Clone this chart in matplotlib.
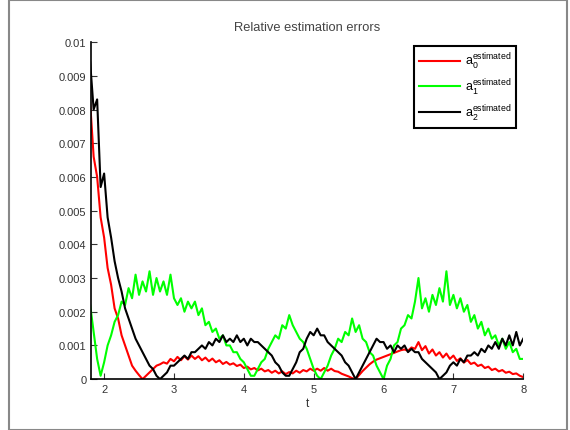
import numpy as np
import matplotlib
matplotlib.use("Agg")
import matplotlib.pyplot as plt
from matplotlib.patches import Rectangle

plt.rcParams['font.family'] = ['Liberation Sans', 'DejaVu Sans']
plt.rcParams['mathtext.fontset'] = 'custom'
plt.rcParams['mathtext.rm'] = 'Liberation Sans'
plt.rcParams['mathtext.it'] = 'Liberation Sans'

# sample times: 1.80, 1.85, ..., 8.00 (125 samples)
t = np.round(1.8 + 0.05 * np.arange(125), 2)

# relative error of a0 (red)
err_a0 = [
    0.0082, 0.0066, 0.0060, 0.0048, 0.0042, 0.0033, 0.0028, 0.0021, 0.0018, 0.0013,
    0.0010, 0.0007, 0.0004, 0.00025, 0.00012, 0.0, 0.0001, 0.0002, 0.0003, 0.0004,
    0.00044, 0.0005, 0.00046, 0.0006, 0.00053, 0.00066, 0.00056, 0.00068, 0.00058, 0.0007,
    0.0006, 0.00068, 0.00056, 0.00064, 0.00053, 0.00061, 0.0005, 0.00056, 0.00045, 0.00051,
    0.00043, 0.00047, 0.00039, 0.00043, 0.00033, 0.00037, 0.00029, 0.00033, 0.00026, 0.00031,
    0.00023, 0.00027, 0.00019, 0.00025, 0.00017, 0.00023, 0.00015, 0.00021, 0.00017, 0.00025,
    0.00019, 0.00027, 0.00023, 0.00031, 0.00025, 0.00031, 0.00025, 0.00033, 0.00025, 0.00031,
    0.00024, 0.00022, 0.00016, 0.00012, 0.00008, 0.00003, 0.0, 0.00012, 0.00024, 0.00034,
    0.00044, 0.00052, 0.00058, 0.00062, 0.00066, 0.0007, 0.00074, 0.00078, 0.00082, 0.00086,
    0.00088, 0.00084, 0.00094, 0.0009, 0.0011, 0.00086, 0.00098, 0.00076, 0.00088, 0.0007,
    0.0008, 0.00064, 0.00076, 0.0006, 0.0007, 0.00054, 0.00062, 0.00049, 0.00057, 0.00045,
    0.00049, 0.00039, 0.00043, 0.00033, 0.00037, 0.00027, 0.00031, 0.00023, 0.00027, 0.00019,
    0.00022, 0.00015, 0.00017, 0.0001, 0.00006,
]

# relative error of a1 (green)
err_a1 = [
    0.0022, 0.0014, 0.0006, 0.0001, 0.0005, 0.0010, 0.0013, 0.0017, 0.0019, 0.0023,
    0.0022, 0.0027, 0.0024, 0.0031, 0.0025, 0.0029, 0.0026, 0.0032, 0.0025, 0.0030,
    0.0026, 0.0029, 0.0025, 0.0031, 0.0024, 0.0022, 0.0024, 0.0020, 0.0023, 0.0021,
    0.0023, 0.0019, 0.0021, 0.0016, 0.0017, 0.0014, 0.0015, 0.0012, 0.0013, 0.0010,
    0.0010, 0.0008, 0.0008, 0.0006, 0.0005, 0.0003, 0.0001, 0.0001, 0.0003, 0.0005,
    0.0006, 0.0009, 0.0011, 0.0013, 0.0012, 0.0016, 0.0015, 0.0019, 0.0016, 0.0014,
    0.0012, 0.0011, 0.0009, 0.0006, 0.0003, 0.0001, 0.0000, 0.0002, 0.0004, 0.0007,
    0.0009, 0.0012, 0.0011, 0.0014, 0.0013, 0.0018, 0.0014, 0.0016, 0.0012, 0.0011,
    0.0008, 0.0007, 0.0004, 0.0002, 0.0000, 0.0004, 0.0006, 0.0010, 0.0011, 0.0015,
    0.0016, 0.0019, 0.0018, 0.0023, 0.0030, 0.0021, 0.0024, 0.0020, 0.0025, 0.0022,
    0.0027, 0.0023, 0.0032, 0.0022, 0.0025, 0.0021, 0.0024, 0.0020, 0.0022, 0.0017,
    0.0019, 0.0015, 0.0017, 0.0013, 0.0015, 0.0012, 0.0013, 0.0010, 0.0012, 0.0009,
    0.0011, 0.0008, 0.0009, 0.0006, 0.0006,
]

# relative error of a2 (black)
err_a2 = [
    0.0094, 0.0080, 0.0083, 0.0057, 0.0061, 0.0048, 0.0042, 0.0035, 0.0030, 0.0026,
    0.0021, 0.0018, 0.0015, 0.0012, 0.0010, 0.0008, 0.0006, 0.0004, 0.0003, 0.0001,
    0.0000, 0.0001, 0.0002, 0.0004, 0.0004, 0.0005, 0.0006, 0.0007, 0.0006, 0.0008,
    0.0008, 0.0009, 0.0010, 0.0009, 0.0011, 0.0010, 0.0012, 0.0011, 0.0013, 0.0011,
    0.0012, 0.0011, 0.0013, 0.0011, 0.0012, 0.0010, 0.0012, 0.0011, 0.0011, 0.0010,
    0.0009, 0.0008, 0.0007, 0.0005, 0.0004, 0.0002, 0.0001, 0.0001, 0.0003, 0.0005,
    0.0008, 0.0009, 0.0012, 0.0014, 0.0013, 0.0015, 0.0013, 0.0013, 0.0011, 0.0010,
    0.0009, 0.0008, 0.0007, 0.0005, 0.0004, 0.0002, 0.0000, 0.0002, 0.0004, 0.0006,
    0.0008, 0.0010, 0.0012, 0.0011, 0.0011, 0.0009, 0.0010, 0.0008, 0.0010, 0.0009,
    0.0010, 0.0008, 0.0009, 0.0008, 0.0008, 0.0006, 0.0005, 0.0004, 0.0003, 0.0002,
    0.0000, 0.0001, 0.0002, 0.0004, 0.0005, 0.0004, 0.0006, 0.0005, 0.0007, 0.0007,
    0.0008, 0.0007, 0.0009, 0.0008, 0.0010, 0.0009, 0.0011, 0.0009, 0.0012, 0.0010,
    0.0013, 0.0010, 0.0014, 0.0010, 0.0012,
]

labels = [r'$\mathrm{a}_0^{\mathrm{estimated}}$',
          r'$\mathrm{a}_1^{\mathrm{estimated}}$',
          r'$\mathrm{a}_2^{\mathrm{estimated}}$']
x_ticks = [2, 3, 4, 5, 6, 7, 8]
y_ticks = [0, 0.001, 0.002, 0.003, 0.004, 0.005, 0.006, 0.007, 0.008, 0.009, 0.01]
y_tick_labels = ['0', '0.001', '0.002', '0.003', '0.004', '0.005',
                 '0.006', '0.007', '0.008', '0.009', '0.01']

fig = plt.figure(figsize=(5.7, 4.31), dpi=100)
ax = fig.add_axes([0.160, 0.118, 0.758, 0.782])

ax.plot(t, err_a0, color='#ff0000', lw=1.5, label=labels[0])
ax.plot(t, err_a1, color='#00ff00', lw=1.5, label=labels[1])
ax.plot(t, err_a2, color='black', lw=1.5, label=labels[2])

ax.set_xlim(1.815, 8)
ax.set_ylim(0, 0.01)
ax.set_xticks(x_ticks)
ax.set_yticks(y_ticks)
ax.set_yticklabels(y_tick_labels)
ax.tick_params(direction='in', length=4, labelsize=8, colors='#333333', width=0.8)
ax.spines['top'].set_visible(False)
ax.spines['right'].set_visible(False)
ax.spines['left'].set_linewidth(1.2)
ax.spines['bottom'].set_linewidth(1.2)

ax.set_xlabel('t', fontsize=8.5, color='#333333', labelpad=2)
ax.set_title('Relative estimation errors', fontsize=9.3, color='#444444', pad=9)

leg = ax.legend(loc='upper right', bbox_to_anchor=(0.984, 0.988), borderaxespad=0,
                fancybox=False, fontsize=9, handlelength=3.3, handletextpad=0.4,
                labelspacing=0.45, borderpad=0.4, framealpha=1)
leg.get_frame().set_edgecolor('black')
leg.get_frame().set_linewidth(1.5)

# grey frame around the whole picture
fig.patches.append(Rectangle((0.016, 0.0), 0.978, 0.997, transform=fig.transFigure,
                             fill=False, edgecolor='#888888', lw=1.5))

fig.savefig('out.png', dpi=100)
